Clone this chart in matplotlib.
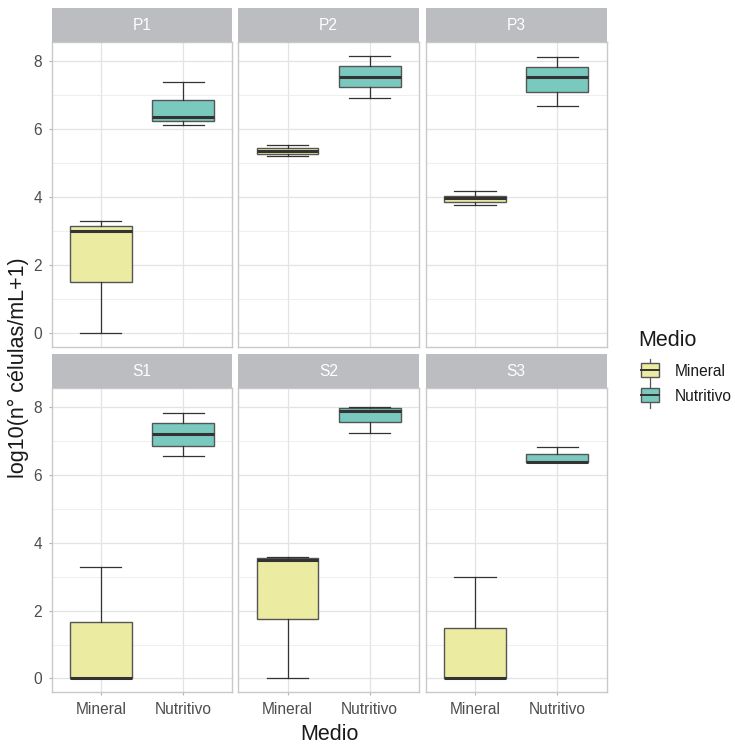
import matplotlib
matplotlib.use("Agg")
import matplotlib.pyplot as plt
from matplotlib.patches import Rectangle

plt.rcParams['font.family'] = ['Liberation Sans', 'DejaVu Sans']

# data: (whisker low, Q1, median, Q3, whisker high)
panels = ["P1", "P2", "P3", "S1", "S2", "S3"]
medios = ["Mineral", "Nutritivo"]
mineral_stats = [
    (0.00, 1.50, 2.99, 3.15, 3.29),
    (5.21, 5.28, 5.37, 5.45, 5.54),
    (3.78, 3.86, 3.96, 4.04, 4.18),
    (0.00, 0.00, 0.00, 1.66, 3.29),
    (0.00, 1.74, 3.49, 3.55, 3.59),
    (0.00, 0.00, 0.00, 1.50, 2.99),
]
nutritivo_stats = [
    (6.11, 6.24, 6.35, 6.87, 7.40),
    (6.93, 7.23, 7.53, 7.86, 8.17),
    (6.67, 7.11, 7.53, 7.82, 8.14),
    (6.57, 6.87, 7.21, 7.55, 7.84),
    (7.25, 7.58, 7.89, 7.97, 8.00),
    (6.38, 6.38, 6.38, 6.61, 6.84),
]
fill_colors = {"Mineral": "#EBEBA1", "Nutritivo": "#79C9BF"}

W, H = 735, 744
fig = plt.figure(figsize=(W / 100, H / 100), dpi=100)


def px_axes(x0, y0, x1, y1):
    return fig.add_axes([x0 / W, 1 - y1 / H, (x1 - x0) / W, (y1 - y0) / H])


cols = [(51.7, 232.3), (238.3, 419.0), (425.7, 606.7)]
rows = [(41.7, 346.7), (387.7, 692.3)]
strip_h = 33.4

all_vals = [v for s in mineral_stats + nutritivo_stats for v in s]
lo, hi = min(all_vals), max(all_vals)
pad = 0.05 * (hi - lo)

tick_col = "#4D4D4D"
for i, name in enumerate(panels):
    r, c = divmod(i, 3)
    x0, x1 = cols[c]
    y0, y1 = rows[r]
    ax = px_axes(x0, y0, x1, y1)
    st = px_axes(x0, y0 - strip_h, x1, y0)
    st.set_facecolor("#BCBDC1")
    st.set_xticks([]); st.set_yticks([])
    for sp in st.spines.values():
        sp.set_visible(False)
    st.text(0.5, 0.5, name, color="white", fontsize=11.2, ha="center", va="center",
            transform=st.transAxes)

    stats = []
    for med, s in zip(medios, [mineral_stats[i], nutritivo_stats[i]]):
        stats.append(dict(whislo=s[0], q1=s[1], med=s[2], q3=s[3], whishi=s[4],
                          fliers=[], label=med))
    bp = ax.bxp(stats, positions=[1, 2], widths=0.75, patch_artist=True,
                showfliers=False, capwidths=0.5,
                boxprops=dict(edgecolor="#555555", linewidth=1.0),
                whiskerprops=dict(color="#333333", linewidth=0.9),
                capprops=dict(color="#333333", linewidth=0.9),
                medianprops=dict(color="#333333", linewidth=2.2))
    for patch, med in zip(bp["boxes"], medios):
        patch.set_facecolor(fill_colors[med])

    ax.set_xlim(0.4, 2.6)
    ax.set_ylim(lo - pad, hi + pad)
    ax.set_yticks([0, 2, 4, 6, 8])
    ax.set_yticks([1, 3, 5, 7], minor=True)
    ax.set_xticks([1, 2])
    ax.set_axisbelow(True)
    ax.grid(which="major", color="#E3E3E3", linewidth=0.9)
    ax.grid(which="minor", axis="y", color="#EBEBEB", linewidth=0.6)
    ax.tick_params(which="minor", length=0)
    ax.tick_params(which="major", color="#B3B3B3", length=2.5, width=0.8,
                   labelcolor=tick_col, labelsize=11.2, pad=4.5)
    for sp in ax.spines.values():
        sp.set_color("#C9C9C9")
        sp.set_linewidth(1.0)
    if c == 0:
        ax.set_yticklabels(["0", "2", "4", "6", "8"])
    else:
        ax.tick_params(axis="y", left=False, labelleft=False)
    if r == 1:
        ax.set_xticklabels(medios)
    else:
        ax.tick_params(axis="x", bottom=False, labelbottom=False)

fig.text(18 / W, 1 - 368 / H, "log10(n° células/mL+1)", rotation=90, fontsize=15.5,
         ha="center", va="center", color="#1A1A1A")
fig.text(329.2 / W, 1 - 735 / H, "Medio", fontsize=15.5, ha="center", va="center",
         color="#1A1A1A")

# legend
lg = px_axes(625, 320, 735, 420)
lg.set_xlim(625, 735)
lg.set_ylim(420, 320)
lg.axis("off")
lg.text(638, 340, "Medio", fontsize=15.5, ha="left", va="center", color="#1A1A1A")
for k, med in enumerate(medios):
    t = 359 + 25 * k
    lg.plot([650, 650], [t, t + 24], color="#555555", linewidth=0.9)
    lg.add_patch(Rectangle((641, t + 4), 18, 14, facecolor=fill_colors[med],
                           edgecolor="#555555", linewidth=1.0, zorder=3))
    lg.plot([641, 659], [t + 11, t + 11], color="#333333", linewidth=1.4, zorder=4)
    lg.text(675, t + 12.5, med, fontsize=11.2, ha="left", va="center", color="#1A1A1A")

fig.savefig("out.png", dpi=100)
